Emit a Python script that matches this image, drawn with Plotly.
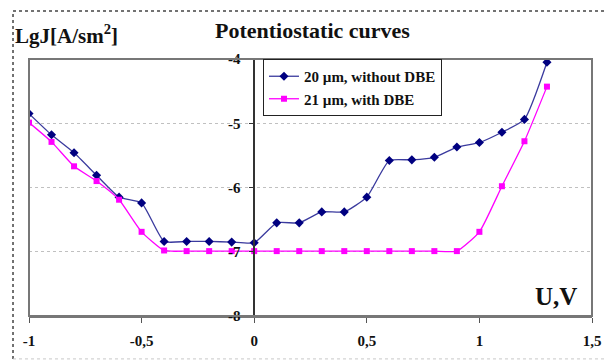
import plotly.graph_objects as go

u_values = [-1.0, -0.9, -0.8, -0.7, -0.6, -0.5, -0.4, -0.3, -0.2, -0.1, 0.0,
            0.1, 0.2, 0.3, 0.4, 0.5, 0.6, 0.7, 0.8, 0.9, 1.0, 1.1, 1.2, 1.3]
lgj_without_dbe = [-4.85, -5.18, -5.46, -5.81, -6.15, -6.24, -6.84, -6.84, -6.84, -6.85, -6.86,
                   -6.55, -6.55, -6.38, -6.38, -6.15, -5.58, -5.57, -5.53, -5.37, -5.30, -5.14, -4.94, -4.05]
lgj_with_dbe = [-4.99, -5.29, -5.67, -5.90, -6.19, -6.69, -6.98, -6.99, -6.99, -6.99, -6.99,
                -6.99, -6.99, -6.99, -6.99, -6.99, -6.99, -6.99, -6.99, -6.99, -6.69, -5.98, -5.28, -4.43]
series_names = ["20 \u00b5m, without DBE", "21 \u00b5m, with DBE"]
x_tick_vals = [-1, -0.5, 0, 0.5, 1, 1.5]
x_tick_text = ["-1", "-0,5", "0", "0,5", "1", "1,5"]
y_tick_vals = [-8, -7, -6, -5, -4]
y_tick_text = ["-8", "-7", "-6", "-5", "-4"]

FONT = "Liberation Serif, Times New Roman, DejaVu Serif, serif"

fig = go.Figure()
fig.add_trace(go.Scatter(
    x=u_values, y=lgj_without_dbe, name=series_names[0], mode="lines+markers",
    line=dict(color="#3a3a9e", width=1.3, shape="spline", smoothing=0.5),
    marker=dict(symbol="diamond", size=7, color="#000080"),
))
fig.add_trace(go.Scatter(
    x=u_values, y=lgj_with_dbe, name=series_names[1], mode="lines+markers",
    line=dict(color="#ff00ff", width=1.3, shape="spline", smoothing=0.5),
    marker=dict(symbol="square", size=6, color="#ff00ff"),
))

fig.update_layout(
    width=604, height=360,
    margin=dict(l=29, r=12, t=59, b=44, autoexpand=False),
    paper_bgcolor="white", plot_bgcolor="white",
    showlegend=True,
    legend=dict(x=0.4156, y=1, xanchor="left", yanchor="top",
                bordercolor="#222", borderwidth=1, bgcolor="white",
                font=dict(family=FONT, size=15, color="#111", weight="bold"),
                tracegroupgap=0, itemwidth=30),
    font=dict(family=FONT, color="#111"),
    xaxis=dict(range=[-1, 1.5], tickvals=x_tick_vals, ticktext=x_tick_text,
               automargin=False, ticklabeloverflow="allow",
               showgrid=False, zeroline=False, showline=True, linecolor="#777", linewidth=2,
               ticks="outside", ticklen=5, tickcolor="#555",
               tickfont=dict(family=FONT, size=15, color="#111", weight="bold"),
               ticklabelstandoff=5),
    yaxis=dict(range=[-8, -4], tickvals=y_tick_vals, ticktext=y_tick_text,
               anchor="free", position=0.4, side="left", automargin=False,
               showgrid=True, gridcolor="#c0c0c0", griddash="dot", gridwidth=1,
               zeroline=False, showline=True, linecolor="#333", linewidth=1.5,
               ticks="outside", ticklen=4, tickcolor="#333",
               tickfont=dict(family=FONT, size=15, color="#111", weight="bold"),
               ticklabelstandoff=6),
)

# plot-area frame
fig.add_shape(type="rect", xref="paper", yref="paper", x0=0, x1=1, y0=0, y1=1,
              line=dict(color="#777", width=2), layer="above")
# outer dotted frame (top, left, bottom edges visible)
fig.add_shape(type="line", xref="paper", yref="paper", x0=-0.0284, x1=1.05, y0=1.187, y1=1.187,
              line=dict(color="#444", width=1.5, dash="dot"), layer="above")
fig.add_shape(type="line", xref="paper", yref="paper", x0=-0.0284, x1=-0.0284, y0=-0.167, y1=1.187,
              line=dict(color="#444", width=1.5, dash="dot"), layer="above")
fig.add_shape(type="line", xref="paper", yref="paper", x0=-0.0284, x1=1.05, y0=-0.167, y1=-0.167,
              line=dict(color="#c8c8c8", width=1, dash="dot"), layer="above")

fig.add_annotation(text="LgJ[A/sm<sup>2</sup>]", xref="paper", yref="paper",
                   x=-0.028, y=1.095, xanchor="left", yanchor="middle", showarrow=False,
                   font=dict(family=FONT, size=21, color="#111", weight="bold"))
fig.add_annotation(text="Potentiostatic curves", xref="paper", yref="paper",
                   x=0.504, y=1.11, xanchor="center", yanchor="middle", showarrow=False,
                   font=dict(family=FONT, size=22, color="#111", weight="bold"))
fig.add_annotation(text="U,V", xref="paper", yref="paper",
                   x=0.977, y=0.075, xanchor="right", yanchor="middle", showarrow=False,
                   font=dict(family=FONT, size=25, color="#111", weight="bold"))

# remove the default 8px page margin so the 604x360 figure fills the window exactly
fig.write_html("out.html", config={"displayModeBar": False},
               post_script="document.body.style.margin='0';")
